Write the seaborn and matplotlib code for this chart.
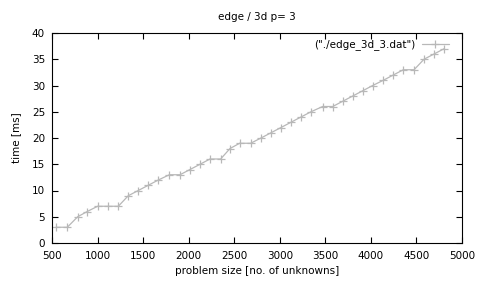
import pandas as pd
import matplotlib
matplotlib.use('Agg')
import matplotlib.pyplot as plt
import seaborn as sns

# ========== data ==========
problem_size = [544, 668, 782, 887, 1001, 1115, 1228, 1337, 1447, 1557,
                1667, 1788, 1905, 2015, 2125, 2234, 2351, 2454, 2560, 2681,
                2794, 2904, 3014, 3123, 3233, 3343, 3471, 3581, 3691, 3801,
                3911, 4020, 4137, 4246, 4356, 4474, 4583, 4693, 4803]
time_ms = [3, 3, 5, 6, 7, 7, 7, 9, 10, 11,
           12, 13, 13, 14, 15, 16, 16, 18, 19, 19,
           20, 21, 22, 23, 24, 25, 26, 26, 27, 28,
           29, 30, 31, 32, 33, 33, 35, 36, 37]
x_ticks = list(range(500, 5001, 500))
y_ticks = list(range(0, 41, 5))
series_label = '("./edge_3d_3.dat")'

df = pd.DataFrame({'size': problem_size, 'time': time_ms})

sns.set_style('ticks')
plt.rcParams['font.family'] = ['DejaVu Sans']
plt.rcParams['font.size'] = 7.5
plt.rcParams['text.color'] = 'black'
plt.rcParams['axes.labelcolor'] = 'black'
plt.rcParams['xtick.color'] = 'black'
plt.rcParams['ytick.color'] = 'black'

fig = plt.figure(figsize=(4.78, 2.84), dpi=100)
ax = fig.add_axes([52 / 478, 1 - 243 / 284, 410 / 478, 210 / 284])

sns.lineplot(data=df, x='size', y='time', ax=ax, color='#b8b8b8',
             linewidth=0.9, marker='+', markersize=6, markeredgewidth=0.9,
             markeredgecolor='#b8b8b8', label=series_label)

ax.set_xlim(500, 5000)
ax.set_ylim(0, 40)
ax.set_xticks(x_ticks)
ax.set_yticks(y_ticks)
ax.tick_params(direction='in', top=True, right=True, length=4, width=0.8,
               labelsize=7.5)
ax.tick_params(axis='x', pad=6)
ax.tick_params(axis='y', pad=5)
for s in ax.spines.values():
    s.set_linewidth(0.8)
    s.set_color('black')

ax.set_xlabel('problem size [no. of unknowns]', fontsize=7.5, labelpad=3)
ax.set_ylabel('time [ms]', fontsize=7.5, labelpad=8)
ax.set_title('edge / 3d p= 3', fontsize=7.5, pad=9)

ax.legend(loc='upper right', bbox_to_anchor=(0.983, 1.0), frameon=False,
          markerfirst=False, fontsize=7.5, handlelength=2.6,
          borderaxespad=0.2, handletextpad=0.6)

fig.savefig('out.png', dpi=100)
